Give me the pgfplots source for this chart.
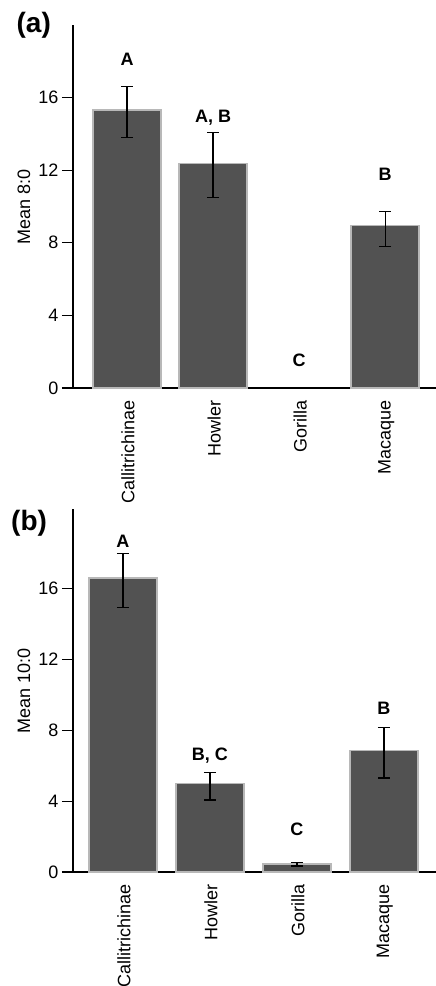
\documentclass[border=0pt]{standalone}
\usepackage{pgfplots}
\pgfplotsset{compat=1.18}
\usepackage{fontspec}
\setmainfont{Liberation Sans}
\definecolor{barfill}{HTML}{525252}
\definecolor{baredge}{HTML}{B8B8B8}
\newcommand{\fs}{\fontsize{18}{21}\selectfont}
\begin{document}
\begin{tikzpicture}
\useasboundingbox (-73pt,-114pt) rectangle (363pt,872pt);
\pgfplotsset{
 panel/.style={
  scale only axis, width=363pt, height=363pt,
  axis x line*=bottom, axis y line*=left,
  axis line style={-, line width=1.3pt, black},
  ymin=0, ytick={0,4,8,12,16},
  tick align=outside, major tick length=11pt,
  ytick style={line width=1.3pt, black},
  xtick={0,1,2,3},
  xticklabels={Callitrichinae,Howler,Gorilla,Macaque},
  xtick style={draw=none},
  xticklabel style={rotate=90, anchor=east, font=\fs, inner sep=1pt, yshift=-1pt},
  yticklabel style={font=\fs},
  ylabel style={font=\fs, at={(axis description cs:-0.135,0.5)}, anchor=center},
  /pgf/number format/assume math mode=true,
  clip=false,
 },
 bars/.style={ybar, bar width=68pt, fill=barfill, draw=baredge, line width=1.5pt,
  error bars/.cd, y dir=both, y explicit,
  error bar style={black, line width=1.4pt},
  error mark options={rotate=90, mark size=6pt, black, line width=1.4pt}},
}
% panel (a)
\begin{axis}[panel, at={(0pt,484pt)}, ymax=20, xmin=-0.628, xmax=3.59, ylabel={Mean 8:0}]
\addplot[bars] coordinates {
 (0,15.33) += (0,1.27) -= (0,1.53)
 (1,12.36) += (0,1.71) -= (0,1.86)
 (3,8.96) += (0,0.77) -= (0,1.16)
};
\node[font=\fs\bfseries] at (axis cs:0,18.1) {A};
\node[font=\fs\bfseries] at (axis cs:1,14.9) {A, B};
\node[font=\fs\bfseries] at (axis cs:2,1.5) {C};
\node[font=\fs\bfseries] at (axis cs:3,11.8) {B};
\node[font=\fontsize{28}{32}\selectfont\bfseries, anchor=west] at (axis description cs:-0.165,1.0) {(a)};
\end{axis}
% panel (b)
\begin{axis}[panel, at={(0pt,0pt)}, ymax=20.5, xmin=-0.575, xmax=3.6, ylabel={Mean 10:0}]
\addplot[bars] coordinates {
 (0,16.6) += (0,1.37) -= (0,1.67)
 (1,5.01) += (0,0.62) -= (0,0.95)
 (2,0.45) += (0,0.1) -= (0,0.1)
 (3,6.87) += (0,1.3) -= (0,1.57)
};
\node[font=\fs\bfseries] at (axis cs:0,18.65) {A};
\node[font=\fs\bfseries] at (axis cs:1,6.6) {B, C};
\node[font=\fs\bfseries] at (axis cs:2,2.42) {C};
\node[font=\fs\bfseries] at (axis cs:3,9.24) {B};
\node[font=\fontsize{28}{32}\selectfont\bfseries, anchor=west] at (axis description cs:-0.18,0.962) {(b)};
\end{axis}
\end{tikzpicture}
\end{document}
